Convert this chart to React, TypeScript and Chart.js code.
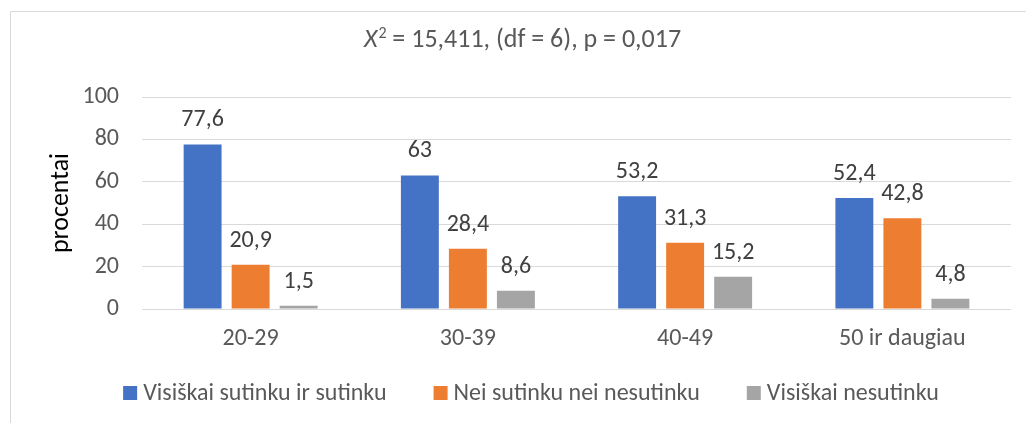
import React, { useEffect, useRef } from "react";
import { Chart, registerables } from "chart.js";

Chart.register(...registerables);

const categories = ["20-29", "30-39", "40-49", "50 ir daugiau"];
const seriesNames = ["Visiškai sutinku ir sutinku", "Nei sutinku nei nesutinku", "Visiškai nesutinku"];
const agree = [77.6, 63, 53.2, 52.4];
const neutral = [20.9, 28.4, 31.3, 42.8];
const disagree = [1.5, 8.6, 15.2, 4.8];
const colors = ["#4472C4", "#ED7D31", "#A5A5A5"];
const yTicks = [0, 20, 40, 60, 80, 100];
const titleRest = " = 15,411, (df = 6), p = 0,017";
const yTitle = "procentai";

const FONT = "Carlito, Lato, 'Noto Sans', sans-serif";
const fmt = (v: number) => String(v).replace(".", ",");

const extras = {
  id: "extras",
  beforeDraw(chart: any) {
    const ctx = chart.ctx;
    ctx.save();
    ctx.strokeStyle = "#D9D9D9";
    ctx.lineWidth = 1;
    ctx.beginPath();
    ctx.moveTo(10.5, chart.height + 5);
    ctx.lineTo(10.5, 11.5);
    ctx.lineTo(chart.width + 5, 11.5);
    ctx.stroke();
    ctx.restore();
  },
  afterDraw(chart: any) {
    const ctx = chart.ctx;
    ctx.save();
    // data labels
    ctx.fillStyle = "#404040";
    ctx.font = `24px ${FONT}`;
    ctx.textAlign = "center";
    ctx.textBaseline = "alphabetic";
    chart.data.datasets.forEach((ds: any, i: number) => {
      const meta = chart.getDatasetMeta(i);
      meta.data.forEach((bar: any, j: number) => {
        ctx.fillText(fmt(ds.data[j]), bar.x, bar.y - 18);
      });
    });
    // title
    const cx = 522;
    const ty = 47;
    const fs = 26;
    const sfs = 16;
    ctx.fillStyle = "#595959";
    ctx.textAlign = "left";
    ctx.font = `italic ${fs}px ${FONT}`;
    const wX = ctx.measureText("X").width;
    ctx.font = `${sfs}px ${FONT}`;
    const w2 = ctx.measureText("2").width;
    ctx.font = `${fs}px ${FONT}`;
    const wR = ctx.measureText(titleRest).width;
    let x = cx - (wX + w2 + wR) / 2;
    ctx.font = `italic ${fs}px ${FONT}`;
    ctx.fillText("X", x, ty);
    x += wX + 1;
    ctx.font = `${sfs}px ${FONT}`;
    ctx.fillText("2", x, ty - 9);
    x += w2;
    ctx.font = `${fs}px ${FONT}`;
    ctx.fillText(titleRest, x, ty);
    // legend
    const lf = 24;
    ctx.font = `${lf}px ${FONT}`;
    const box = 14;
    const gapBoxText = 6;
    const gapItems = 47;
    const widths = seriesNames.map((n) => box + gapBoxText + ctx.measureText(n).width);
    const total = widths.reduce((a, b) => a + b, 0) + gapItems * (widths.length - 1);
    let lx = 531 - total / 2;
    const ly = 393;
    ctx.textBaseline = "middle";
    seriesNames.forEach((n, i) => {
      ctx.fillStyle = colors[i];
      ctx.fillRect(lx, ly - box / 2, box, box);
      ctx.fillStyle = "#595959";
      ctx.fillText(n, lx + box + gapBoxText, ly + 1);
      lx += widths[i] + gapItems;
    });
    ctx.restore();
  },
};

export default function App() {
  const ref = useRef<HTMLCanvasElement>(null);
  useEffect(() => {
    document.body.style.margin = "0";
    const chart = new Chart(ref.current!, {
      type: "bar",
      data: {
        labels: categories,
        datasets: [agree, neutral, disagree].map((d, i) => ({
          label: seriesNames[i],
          data: d,
          backgroundColor: colors[i],
          categoryPercentage: 0.663,
          barPercentage: 0.79,
        })),
      },
      options: {
        animation: false,
        responsive: false,
        layout: { padding: { top: 97, left: 46, right: 15, bottom: 54 } },
        plugins: { legend: { display: false }, tooltip: { enabled: false }, title: { display: false } },
        scales: {
          x: {
            grid: { display: false, drawTicks: false },
            border: { display: false },
            ticks: { color: "#595959", font: { family: FONT, size: 24 }, padding: 16 },
            afterFit: (s: any) => { s.height = 60; },
          },
          y: {
            min: 0,
            max: 100,
            afterBuildTicks: (s: any) => { s.ticks = yTicks.map((v) => ({ value: v })); },
            grid: { color: "#D9D9D9", drawTicks: false, lineWidth: 1 },
            border: { display: false },
            ticks: { color: "#595959", font: { family: FONT, size: 24 }, padding: 23 },
            title: { display: true, text: yTitle, color: "#000000", font: { family: FONT, size: 26 }, padding: 0 },
            afterFit: (s: any) => { s.width = 96; },
          },
        },
      },
      plugins: [extras],
    });
    return () => chart.destroy();
  }, []);
  return <canvas ref={ref} width={1026} height={423} style={{ display: "block" }} />;
}
